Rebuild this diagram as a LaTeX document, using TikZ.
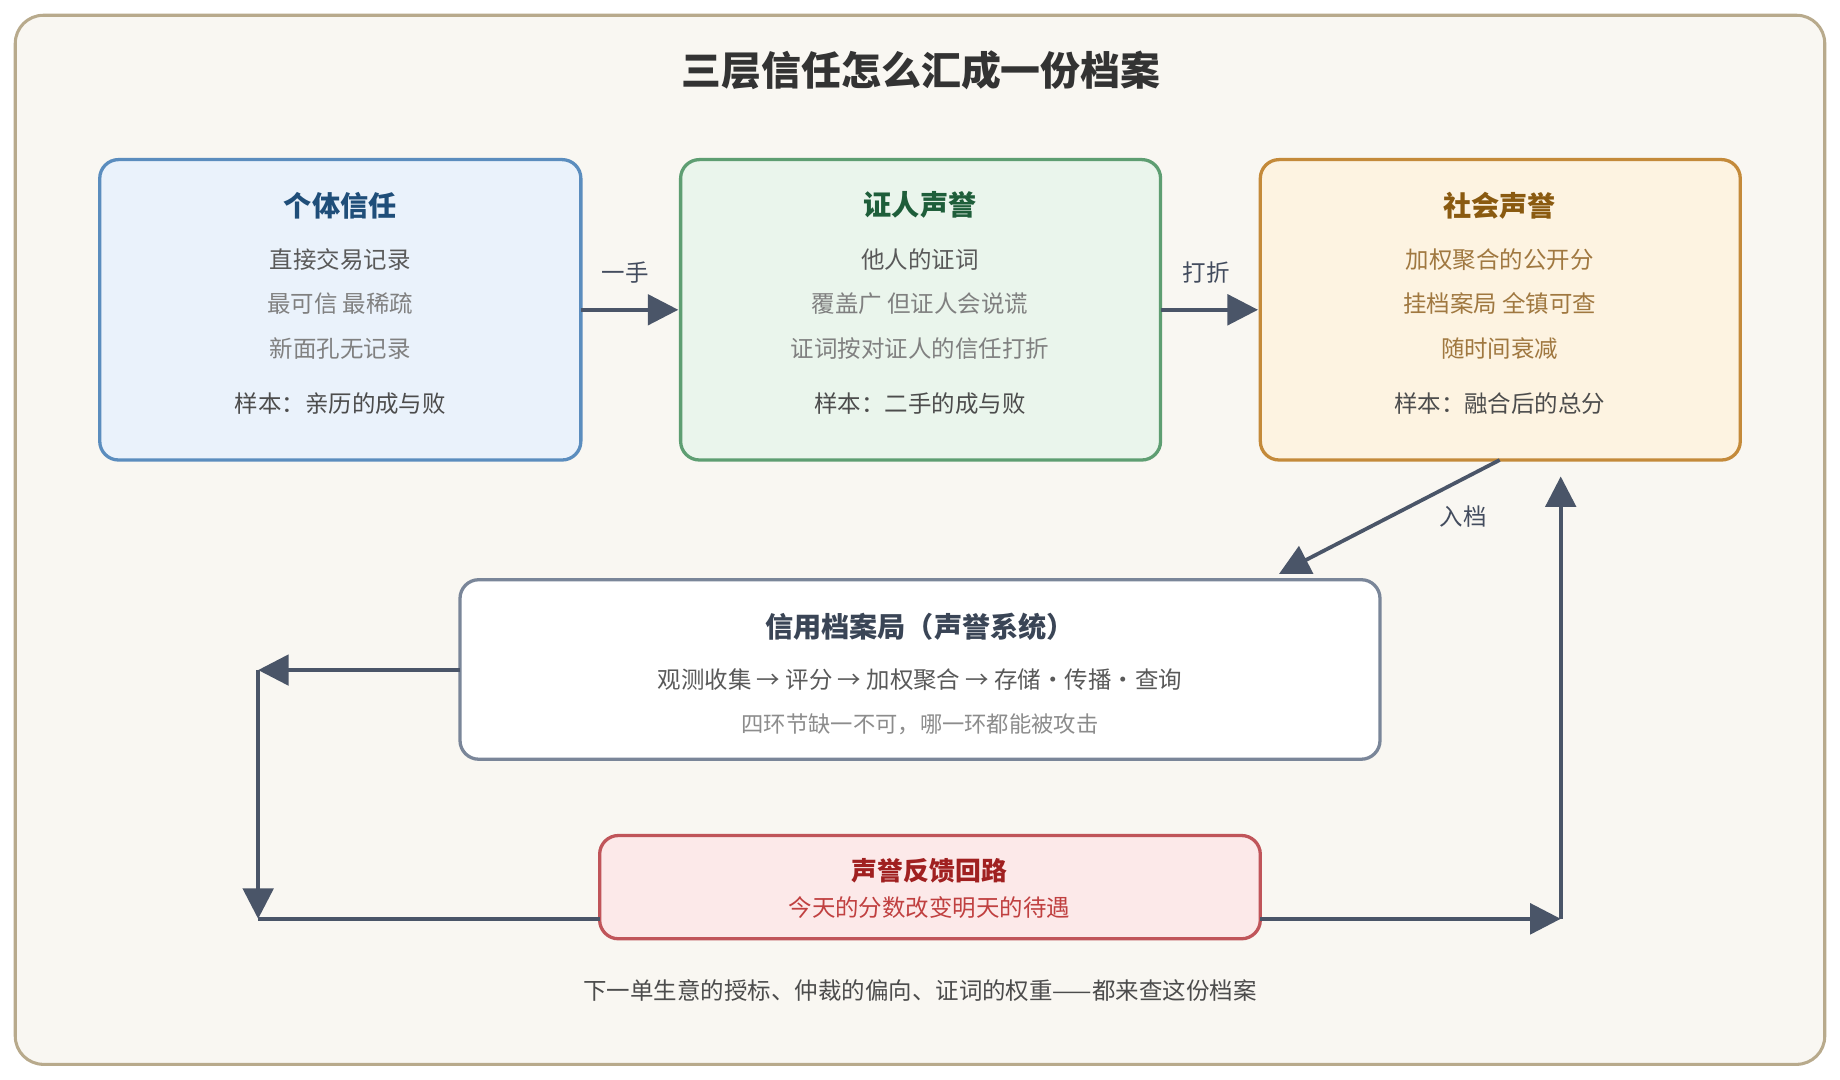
\documentclass[tikz,border=0pt]{standalone}
\usepackage{fontspec}
\setmainfont{Noto Sans CJK SC}
\usetikzlibrary{arrows.meta}
\definecolor{bgc}{HTML}{F9F7F2}
\definecolor{frc}{HTML}{B8AA8C}
\definecolor{arr}{HTML}{4A5568}
\begin{document}
\begin{tikzpicture}[x=0.5pt,y=-0.5pt,
  box/.style={draw,line width=1.4pt,rounded corners=8pt},
  conn/.style={draw=arr,line width=1.6pt,-{Triangle[length=13pt,width=13pt]}},
  seg/.style={draw=arr,line width=1.6pt},
  lbl/.style={font=\fontsize{10}{12}\selectfont,text=arr!90!black},
  ttl/.style={font=\fontsize{12}{14}\selectfont\bfseries},
  txt/.style={font=\fontsize{10}{12}\selectfont}]
\useasboundingbox (0,0) rectangle (1568,920);
\draw[draw=frc,fill=bgc,line width=1.3pt,rounded corners=12pt] (13,13) rectangle (1555,907);
\node[font=\fontsize{17}{20}\selectfont\bfseries,text=black!80] (title) at (785,60) {三层信任怎么汇成一份档案};
% box 1
\draw[box,draw={rgb,255:red,91;green,141;blue,190},fill={rgb,255:red,234;green,242;blue,251}] (85,136) rectangle (495,392);
\node[coordinate] (b1) at (495,264) {};
\node[ttl,text={rgb,255:red,31;green,78;blue,121}] (t1) at (290,175) {个体信任};
\node[txt,text=black!65] (l11) at (290,221) {直接交易记录};
\node[txt,text=black!50] (l12) at (290,259) {最可信 最稀疏};
\node[txt,text=black!50] (l13) at (290,297) {新面孔无记录};
\node[txt,text=black!70] (l14) at (290,344) {样本：亲历的成与败};
% box 2
\draw[box,draw={rgb,255:red,94;green,158;blue,114},fill={rgb,255:red,234;green,245;blue,236}] (580,136) rectangle (989,392);
\node[coordinate] (b2l) at (578,264) {};
\node[coordinate] (b2r) at (989,264) {};
\node[ttl,text={rgb,255:red,30;green,94;blue,58}] (t2) at (784,175) {证人声誉};
\node[txt,text=black!65] (l21) at (784,221) {他人的证词};
\node[txt,text=black!50] (l22) at (784,259) {覆盖广 但证人会说谎};
\node[txt,text=black!50] (l23) at (784,297) {证词按对证人的信任打折};
\node[txt,text=black!70] (l24) at (784,344) {样本：二手的成与败};
% box 3
\draw[box,draw={rgb,255:red,196;green,138;blue,58},fill={rgb,255:red,253;green,243;blue,225}] (1074,136) rectangle (1483,392);
\node[coordinate] (b3l) at (1072,264) {};
\node[coordinate] (b3b) at (1278,392) {};
\node[coordinate] (b3in) at (1330,406) {};
\node[ttl,text={rgb,255:red,138;green,90;blue,16}] (t3) at (1278,175) {社会声誉};
\node[txt,text={rgb,255:red,160;green,120;blue,64}] (l31) at (1278,221) {加权聚合的公开分};
\node[txt,text={rgb,255:red,160;green,120;blue,64}] (l32) at (1278,259) {挂档案局 全镇可查};
\node[txt,text={rgb,255:red,160;green,120;blue,64}] (l33) at (1278,297) {随时间衰减};
\node[txt,text=black!70] (l34) at (1278,344) {样本：融合后的总分};
% arrows top
\draw[conn] (b1) -- (b2l);
\node[lbl] (a1) at (533,232) {一手};
\draw[conn] (b2r) -- (b3l);
\node[lbl] (a2) at (1028,232) {打折};
% archive
\draw[box,draw={rgb,255:red,122;green,134;blue,153},fill=white] (392,494) rectangle (1176,647);
\node[coordinate] (arin) at (1090,489) {};
\node[coordinate] (arl) at (392,571) {};
\node[ttl,text={rgb,255:red,58;green,69;blue,86}] (t4) at (784,534) {信用档案局（声誉系统）};
\node[txt,text=black!65] (l41) at (784,579) {观测收集 → 评分 → 加权聚合 → 存储·传播·查询};
\node[txt,text=black!45,font=\fontsize{9.5}{11}\selectfont] (l42) at (784,617) {四环节缺一不可，哪一环都能被攻击};
\draw[conn] (b3b) -- (arin);
\node[lbl] (a3) at (1247,440) {入档};
% feedback
\draw[box,draw={rgb,255:red,192;green,85;blue,90},fill={rgb,255:red,252;green,233;blue,233}] (511,712) rectangle (1074,800);
\node[coordinate] (fbl) at (511,783) {};
\node[coordinate] (fbr) at (1074,783) {};
\node[ttl,font=\fontsize{11}{13}\selectfont\bfseries,text={rgb,255:red,160;green,32;blue,32}] (t5) at (792,742) {声誉反馈回路};
\node[txt,text={rgb,255:red,192;green,64;blue,64}] (l51) at (792,773) {今天的分数改变明天的待遇};
\node[coordinate] (cl) at (220,571) {};
\node[coordinate] (cld) at (220,783) {};
\node[coordinate] (cr) at (1330,783) {};
\draw[conn] (arl) -- (cl);
\draw[conn] (cl) -- (cld);
\draw[seg] (cld) -- (fbl);
\draw[conn] (fbr) -- (cr);
\draw[conn] (cr) -- (b3in);
\node[txt,text=black!70] (foot) at (784,844) {下一单生意的授标、仲裁的偏向、证词的权重——都来查这份档案};
\end{tikzpicture}
\end{document}
